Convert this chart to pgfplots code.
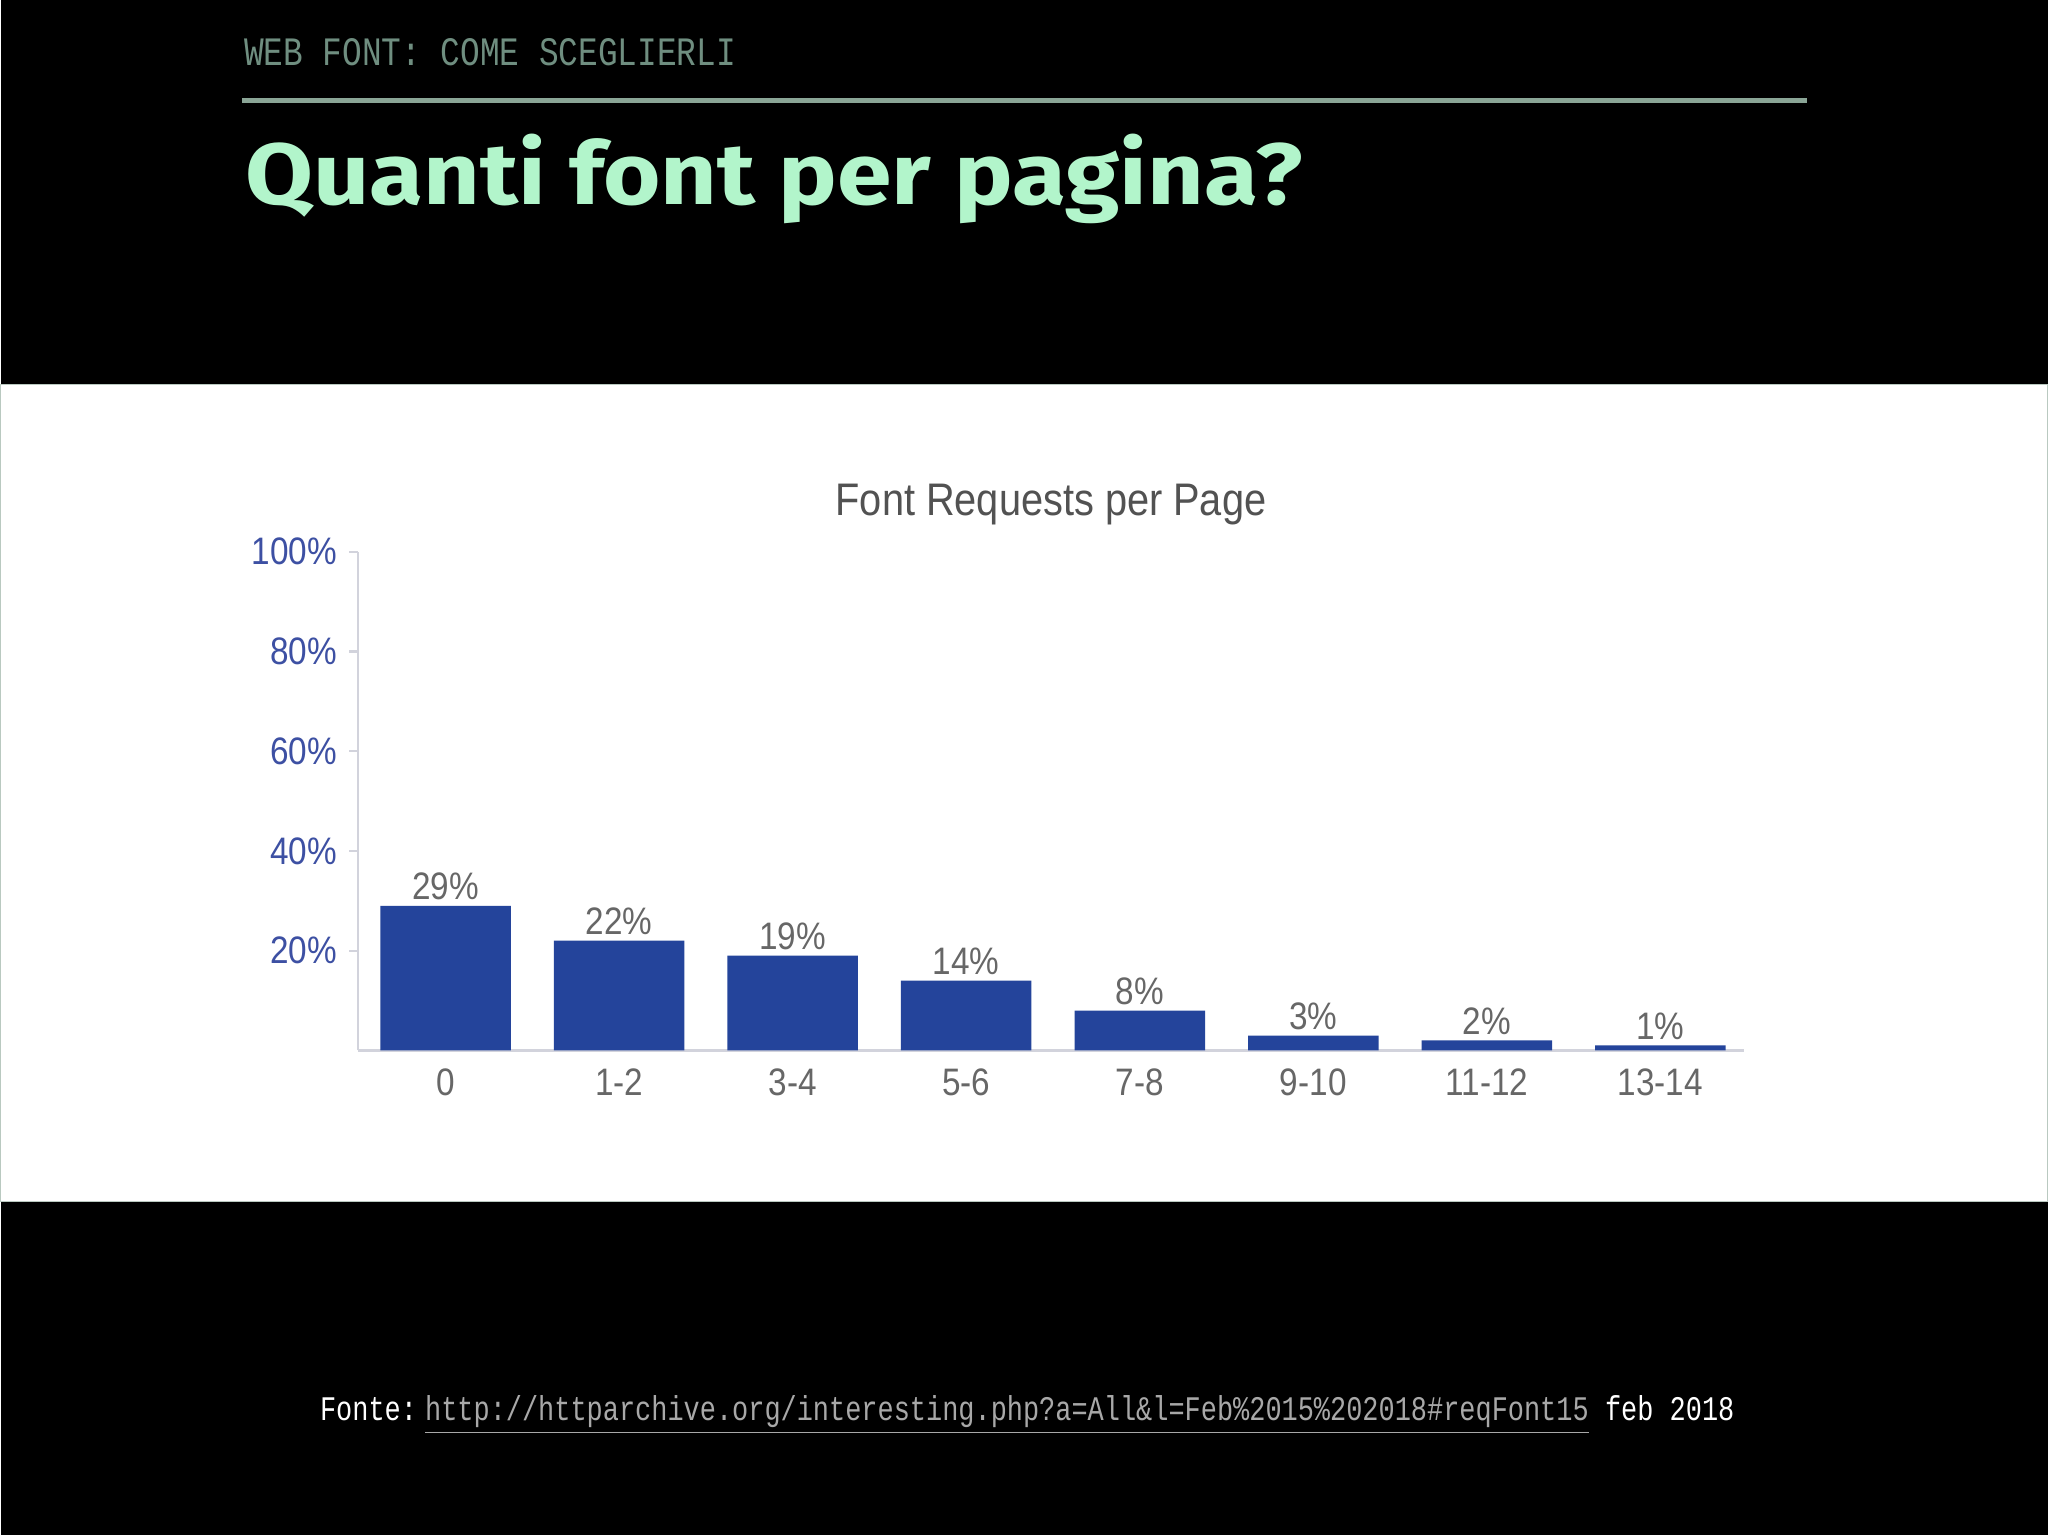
\documentclass[border=0pt]{standalone}
\usepackage{fontspec}
\usepackage{graphicx}
\usepackage{pgfplots}
\pgfplotsset{compat=1.18}
\setmainfont{Liberation Sans}
\newfontfamily\chartfont{Liberation Sans}[FakeStretch=0.87]
\newfontfamily\monofont{Liberation Mono}
\newfontfamily\titlefont{Fira Sans}
\definecolor{hdr}{HTML}{6F8E80}
\definecolor{rulec}{HTML}{8AA596}
\definecolor{mint}{HTML}{B2F5CB}
\definecolor{barblue}{HTML}{24449B}
\definecolor{ylab}{HTML}{3D50A3}
\definecolor{lab}{HTML}{676767}
\definecolor{axl}{HTML}{D2D3DC}
\definecolor{urlc}{HTML}{A8A8A8}
\newcommand\cf{\chartfont\fontsize{10.9}{12}\selectfont}

\begin{document}
\begin{tikzpicture}
% slide background and white panel
\fill[black] (0,0) rectangle (20.48,15.36);
\fill[white, draw=rulec!60, line width=0.01cm] (0,3.344) rectangle (20.48,11.51);

% header, rule, title
\node[anchor=base west, inner sep=0] at (2.43,14.70)
  {\resizebox{4.92cm}{0.27cm}{\monofont\color{hdr}WEB FONT: COME SCEGLIERLI}};
\draw[rulec, line width=0.05cm] (2.42,14.355) -- (18.07,14.355);
\node[anchor=base west, inner sep=0] at (2.44,13.31)
  {\resizebox{10.58cm}{0.705cm}{\titlefont\bfseries\color{mint}Quanti font per pagina?}};

% chart title
\node[text=lab!80!black] at (10.51,10.31) {\chartfont\fontsize{13}{15}\selectfont Font Requests per Page};

\begin{axis}[
  at={(3.58cm,4.85cm)}, anchor=south west,
  scale only axis, width=13.86cm, height=4.99cm,
  ybar, bar width=0.752,
  xmin=-0.503, xmax=7.48, ymin=0, ymax=100,
  enlargelimits=false,
  axis x line*=bottom, axis y line*=left,
  axis line style={axl, line width=0.6pt},
  xtick={0,...,7},
  xticklabels={0,1-2,3-4,5-6,7-8,9-10,11-12,13-14},
  major x tick style={draw=none},
  ytick={20,40,60,80,100},
  yticklabels={20\%,40\%,60\%,80\%,100\%},
  tick align=outside, major tick length=0.09cm,
  ytick style={axl, line width=0.6pt},
  yticklabel style={font=\cf, text=ylab},
  xticklabel style={font=\cf, text=lab, yshift=0.03cm},
  nodes near coords={\pgfmathprintnumber{\pgfplotspointmeta}\%},
  /pgf/number format/assume math mode=true,
  every node near coord/.append style={font=\cf, text=lab, inner sep=1.4pt},
]
\addplot[fill=barblue, draw=none] coordinates {
(0,29) (1,22) (2,19) (3,14) (4,8) (5,3) (6,2) (7,1)
};
\end{axis}

% source line
\node[anchor=base west, inner sep=0] at (3.19,1.15)
  {\resizebox{14.15cm}{0.25cm}{\monofont\color{white}Fonte:\kern0.3em\textcolor{urlc}{\underline{http://httparchive.org/interesting.php?a=All\&l=Feb\%2015\%202018\#reqFont15}} feb 2018}};
\end{tikzpicture}
\end{document}
